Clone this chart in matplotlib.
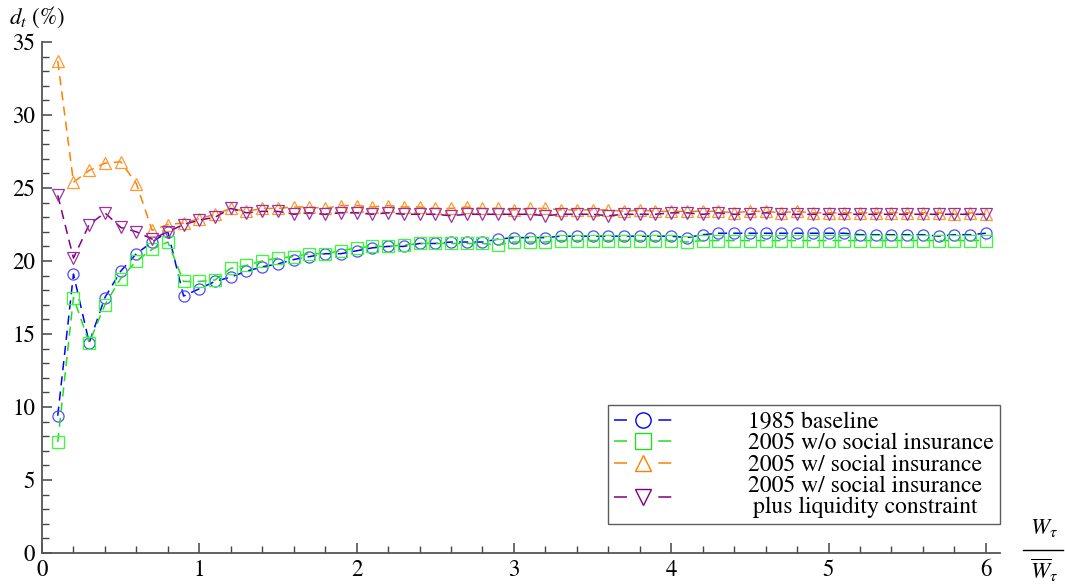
import matplotlib
matplotlib.use("Agg")
import matplotlib.pyplot as plt
from matplotlib.lines import Line2D
from matplotlib.ticker import MultipleLocator
import numpy as np

plt.rcParams['font.family'] = ['STIXGeneral', 'DejaVu Serif']
plt.rcParams['mathtext.fontset'] = 'stix'

# wealth ratio grid, 0.1 ... 6.0
x = np.round(np.arange(1, 61) * 0.1, 1)

baseline_1985 = [
    9.4, 19.1, 14.4, 17.5, 19.3, 20.5, 21.3, 22.0, 17.6, 18.1,
    18.6, 18.9, 19.3, 19.6, 19.8, 20.1, 20.3, 20.5, 20.5, 20.7,
    20.9, 21.0, 21.0, 21.2, 21.2, 21.3, 21.3, 21.3, 21.5, 21.6,
    21.6, 21.6, 21.7, 21.7, 21.7, 21.7, 21.7, 21.7, 21.7, 21.7,
    21.6, 21.8, 21.9, 21.9, 21.9, 21.9, 21.9, 21.9, 21.9, 21.9,
    21.9, 21.8, 21.8, 21.8, 21.8, 21.8, 21.7, 21.8, 21.8, 21.9]

wo_social_2005 = [
    7.6, 17.5, 14.4, 17.0, 18.8, 20.0, 20.8, 21.3, 18.6, 18.6,
    18.7, 19.5, 19.7, 20.0, 20.2, 20.3, 20.5, 20.5, 20.7, 20.9,
    21.0, 21.0, 21.1, 21.2, 21.2, 21.2, 21.2, 21.2, 21.1, 21.3,
    21.3, 21.3, 21.4, 21.4, 21.4, 21.4, 21.4, 21.4, 21.4, 21.4,
    21.3, 21.4, 21.4, 21.4, 21.4, 21.4, 21.4, 21.4, 21.4, 21.4,
    21.4, 21.4, 21.4, 21.4, 21.4, 21.4, 21.4, 21.4, 21.4, 21.4]

w_social_2005 = [
    33.7, 25.4, 26.2, 26.7, 26.8, 25.3, 22.1, 22.5, 22.6, 22.9,
    23.2, 23.6, 23.4, 23.6, 23.6, 23.7, 23.7, 23.6, 23.8, 23.8,
    23.7, 23.8, 23.7, 23.7, 23.6, 23.6, 23.7, 23.6, 23.6, 23.5,
    23.6, 23.6, 23.5, 23.5, 23.5, 23.5, 23.4, 23.5, 23.4, 23.4,
    23.4, 23.4, 23.4, 23.3, 23.4, 23.4, 23.3, 23.4, 23.3, 23.3,
    23.3, 23.3, 23.3, 23.3, 23.3, 23.3, 23.3, 23.2, 23.3, 23.2]

w_social_liq_2005 = [
    24.5, 20.2, 22.5, 23.3, 22.3, 22.0, 21.5, 22.0, 22.5, 22.8,
    23.0, 23.6, 23.3, 23.4, 23.4, 23.2, 23.3, 23.2, 23.3, 23.3,
    23.2, 23.3, 23.2, 23.2, 23.2, 23.1, 23.2, 23.2, 23.2, 23.2,
    23.2, 23.1, 23.2, 23.2, 23.2, 23.1, 23.2, 23.2, 23.2, 23.3,
    23.3, 23.2, 23.3, 23.2, 23.2, 23.3, 23.2, 23.2, 23.2, 23.2,
    23.2, 23.2, 23.2, 23.2, 23.2, 23.2, 23.2, 23.2, 23.2, 23.2]

labels = ['1985 baseline',
          '2005 w/o social insurance',
          '2005 w/ social insurance',
          '2005 w/ social insurance\nplus liquidity constraint']

series = [baseline_1985, wo_social_2005, w_social_2005, w_social_liq_2005]
line_colors = ['#0000ff', '#22dd22', '#ff8000', '#800080']
mark_colors = ['#4d4dff', '#33ff33', '#ff9933', '#9933a0']
markers = ['o', 's', '^', 'v']

fig = plt.figure(figsize=(10.65, 5.85), dpi=100)
ax = fig.add_axes([42 / 1065, 1 - 553 / 585, (1000 - 42) / 1065, (553 - 42) / 585])

for y, lc, mc, m in zip(series, line_colors, mark_colors, markers):
    ax.plot(x, y, color=lc, lw=1.1, dashes=(6, 4), marker=m, markersize=8,
            markerfacecolor='none', markeredgecolor=mc, markeredgewidth=0.9)

ax.set_xlim(0, 6.09)
ax.set_ylim(0, 35)
ax.xaxis.set_major_locator(MultipleLocator(1))
ax.xaxis.set_minor_locator(MultipleLocator(0.2))
ax.yaxis.set_major_locator(MultipleLocator(5))
ax.yaxis.set_minor_locator(MultipleLocator(1))
ax.tick_params(which='both', direction='in', colors='#444444', labelcolor='black',
               labelsize=16.5)
ax.tick_params(which='major', length=7, width=1.1)
ax.tick_params(which='minor', length=5, width=1.0)
ax.tick_params(axis='x', pad=5)
ax.tick_params(axis='y', pad=5)
for s in ['top', 'right']:
    ax.spines[s].set_visible(False)
for s in ['left', 'bottom']:
    ax.spines[s].set_color('#555555')
    ax.spines[s].set_linewidth(1.3)

fig.text(9 / 1065, 1 - 17 / 585, r'$d_t$ (%)', fontsize=16.5, va='center', ha='left')

# x axis label as a stacked fraction
fig.text(1044 / 1065, 1 - 528 / 585, r'$W_\tau$', fontsize=16.5, ha='center', va='center')
fig.add_artist(Line2D([1023 / 1065, 1063 / 1065], [1 - 550 / 585, 1 - 550 / 585],
                      color='black', lw=1.0))
fig.text(1044 / 1065, 1 - 570 / 585, r'$\overline{W}_\tau$', fontsize=16.5,
         ha='center', va='center')

handles = [Line2D([], [], color=lc, lw=1.1, dashes=(8.5, 20.5), marker=m, markersize=11,
                  markerfacecolor='none', markeredgecolor=lc, markeredgewidth=1.0)
           for lc, m in zip(line_colors, markers)]
leg = ax.legend(handles, labels, loc='lower right', bbox_to_anchor=(1.0, 0.057),
                fontsize=17, frameon=True, fancybox=False, edgecolor='#333333',
                handlelength=2.5, handletextpad=3.2, borderpad=0.25,
                labelspacing=0.0, borderaxespad=0)
leg.get_frame().set_linewidth(1.0)
for t in leg.get_texts():
    t.set_multialignment('center')
    t.set_linespacing(0.95)

fig.savefig('out.png', dpi=100)
